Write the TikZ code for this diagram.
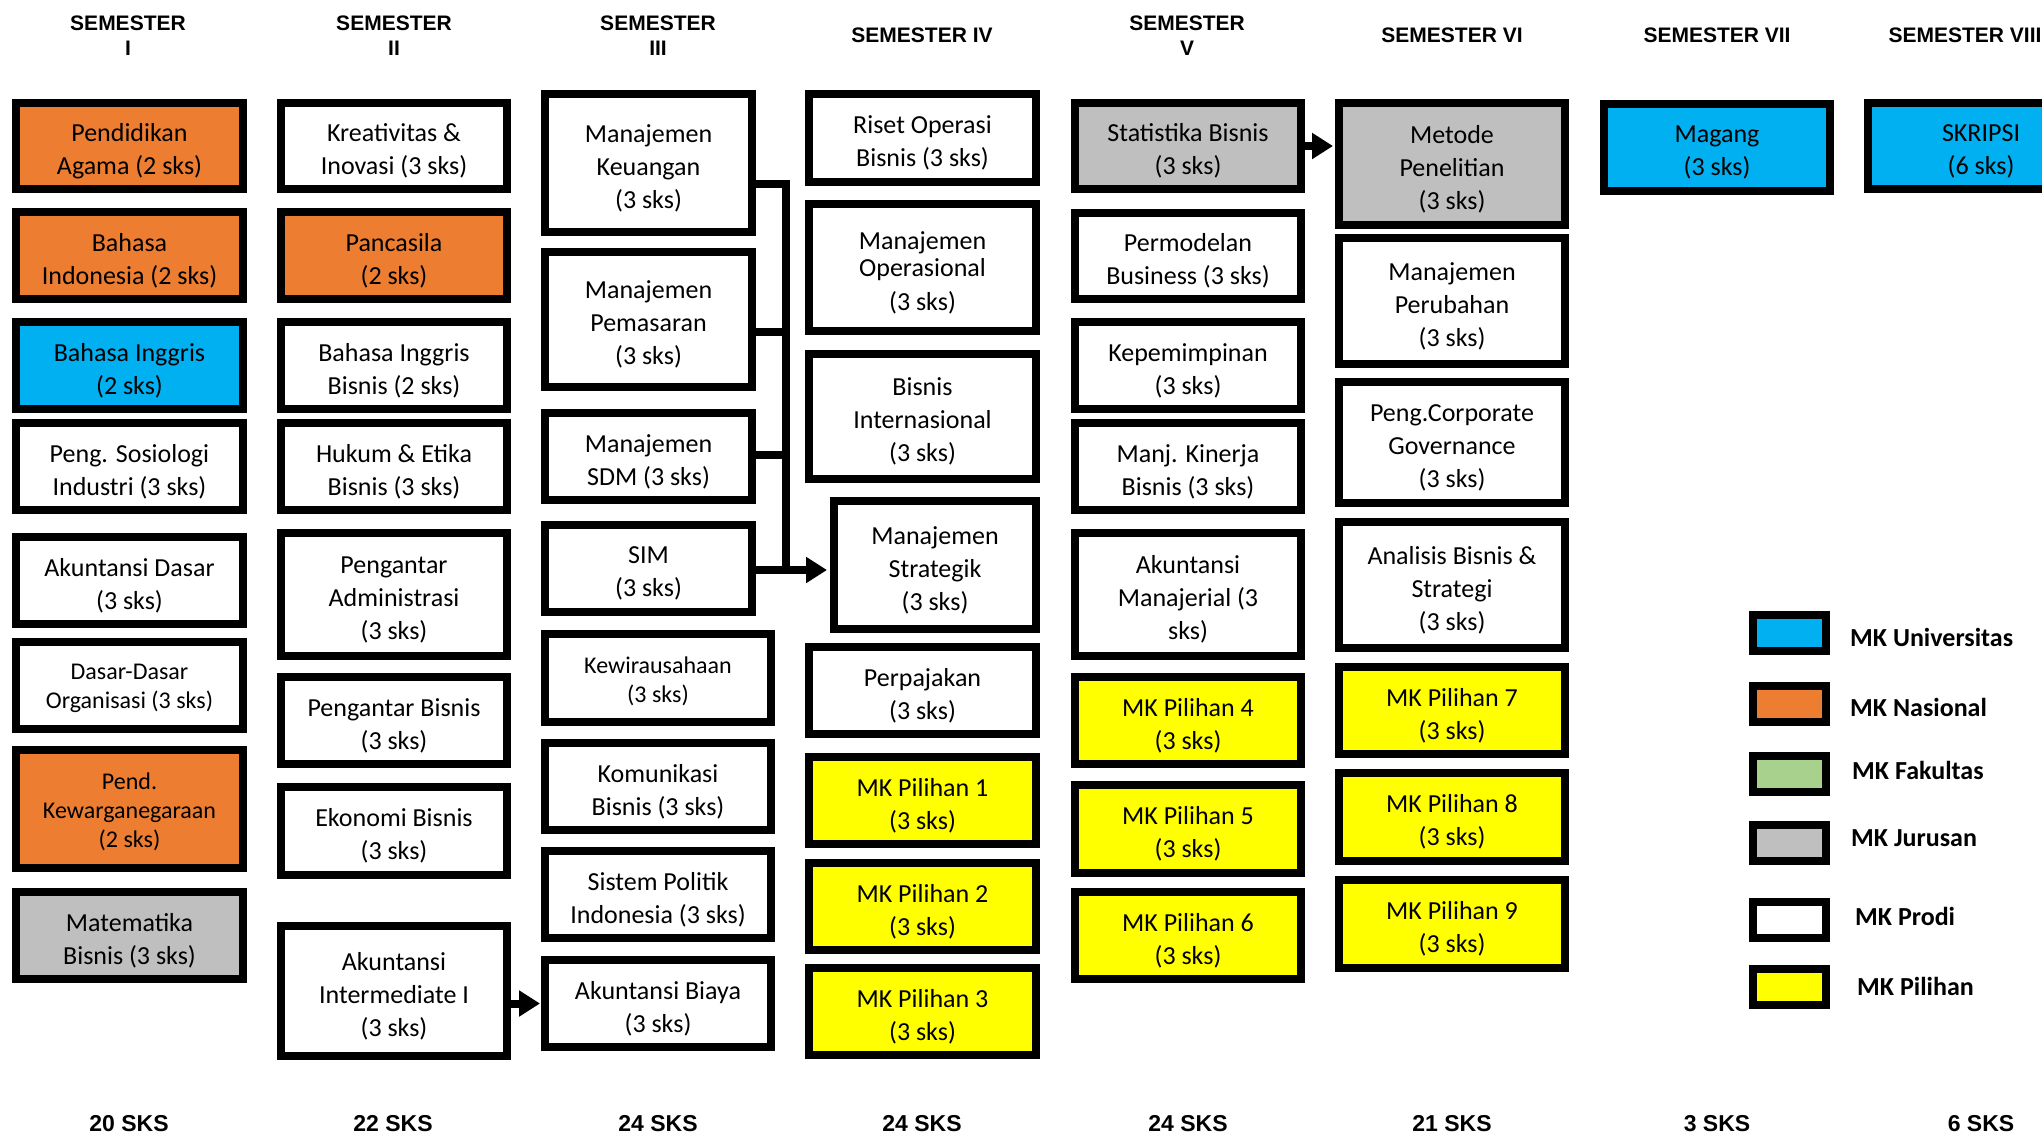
\documentclass[tikz,border=0pt]{standalone}
\usepackage{fontspec}
\setmainfont{Carlito}
\newfontfamily\headfont{Liberation Sans}
\usetikzlibrary{arrows.meta}
\definecolor{mkuni}{HTML}{00B0F0}
\definecolor{mknas}{HTML}{ED7D31}
\definecolor{mkfak}{HTML}{A9D18E}
\definecolor{mkjur}{HTML}{BFBFBF}
\definecolor{mkpro}{HTML}{FFFFFF}
\definecolor{mkpil}{HTML}{FFFF00}
\tikzset{
  course/.style={draw=black, line width=8pt, inner sep=0pt},
  ctext/.style={inner sep=0pt, align=center, yshift=-5pt,
    font=\fontsize{26}{33}\selectfont},
  regtext/.style={},
  smalltext/.style={font=\fontsize{24}{29}\selectfont, yshift=2pt},
  head/.style={align=center, inner sep=0pt, font=\headfont\bfseries\fontsize{21}{25}\selectfont},
  foot/.style={inner sep=0pt, font=\headfont\bfseries\fontsize{23}{27}\selectfont},
  legbox/.style={draw=black, line width=8pt, inner sep=0pt, minimum width=73pt, minimum height=36pt},
  legtext/.style={anchor=west, inner sep=0pt, font=\bfseries\fontsize{26}{30}\selectfont},
  bus/.style={line width=8pt, line join=miter},
  bigarrow/.style={line width=8pt, -{Triangle[length=21pt,width=25pt]}}
}
% name, x1, y1, x2, y2, fill colour, text style, text
\newcommand\cbox[8]{%
  \node[course,fill=#6,minimum width={#4-#2-8},minimum height={#5-#3-8}] (#1) at ({(#2+#4)/2},{(#3+#5)/2}) {};
  \node[ctext,#7] (#1t) at (#1.center) {#8};}
\begin{document}
\begin{tikzpicture}[x=1pt,y=-1pt]
\path[use as bounding box] (0,0) rectangle (2042,1136);
\clip (0,0) rectangle (2042,1136);

% headings
\node[head] (h1) at (128,35.5) {SEMESTER\\I};
\node[head] (h2) at (394,35.5) {SEMESTER\\II};
\node[head] (h3) at (658,35.5) {SEMESTER\\III};
\node[head] (h4) at (922,35) {SEMESTER IV};
\node[head] (h5) at (1187,35.5) {SEMESTER\\V};
\node[head] (h6) at (1452,35) {SEMESTER VI};
\node[head] (h7) at (1717,35) {SEMESTER VII};
\node[head] (h8) at (1965,35) {SEMESTER VIII};

% column 1
\cbox{pa}{12}{99}{247}{193}{mknas}{regtext}{Pendidikan\\Agama (2 sks)}
\cbox{bind}{12}{208}{247}{303}{mknas}{regtext}{Bahasa\\Indonesia (2 sks)}
\cbox{bing}{12}{318}{247}{413}{mkuni}{regtext}{Bahasa Inggris\\(2 sks)}
\cbox{sos}{12}{419}{247}{514}{mkpro}{regtext}{Peng. Sosiologi\\Industri (3 sks)}
\cbox{akd}{12}{533}{247}{628}{mkpro}{regtext}{Akuntansi Dasar\\(3 sks)}
\cbox{ddo}{12}{638}{247}{733}{mkpro}{smalltext}{Dasar-Dasar\\Organisasi (3 sks)}
\cbox{pkn}{12}{746}{247}{872}{mknas}{smalltext}{Pend.\\Kewarganegaraan\\(2 sks)}
\cbox{mat}{12}{888}{247}{983}{mkjur}{regtext}{Matematika\\Bisnis (3 sks)}

% column 2
\cbox{kre}{277}{99}{511}{193}{mkpro}{regtext}{Kreativitas \&\\Inovasi (3 sks)}
\cbox{pan}{277}{208}{511}{303}{mknas}{regtext}{Pancasila\\(2 sks)}
\cbox{bib}{277}{318}{511}{413}{mkpro}{regtext}{Bahasa Inggris\\Bisnis (2 sks)}
\cbox{huk}{277}{419}{511}{514}{mkpro}{regtext}{Hukum \& Etika\\Bisnis (3 sks)}
\cbox{pad}{277}{529}{511}{660}{mkpro}{regtext}{Pengantar\\Administrasi\\(3 sks)}
\cbox{pbis}{277}{673}{511}{768}{mkpro}{regtext}{Pengantar Bisnis\\(3 sks)}
\cbox{eko}{277}{783}{511}{879}{mkpro}{regtext}{Ekonomi Bisnis\\(3 sks)}
\cbox{aki}{277}{922}{511}{1060}{mkpro}{regtext}{Akuntansi\\Intermediate I\\(3 sks)}

% column 3
\cbox{keu}{541}{90}{756}{236}{mkpro}{regtext}{Manajemen\\Keuangan\\(3 sks)}
\cbox{pem}{541}{248}{756}{391}{mkpro}{regtext}{Manajemen\\Pemasaran\\(3 sks)}
\cbox{sdm}{541}{409}{756}{504}{mkpro}{regtext}{Manajemen\\SDM (3 sks)}
\cbox{sim}{541}{521}{756}{616}{mkpro}{regtext}{SIM\\(3 sks)}
\cbox{kwu}{541}{630}{775}{726}{mkpro}{smalltext}{Kewirausahaan\\(3 sks)}
\cbox{kom}{541}{739}{775}{834}{mkpro}{regtext}{Komunikasi\\Bisnis (3 sks)}
\cbox{spi}{541}{847}{775}{942}{mkpro}{regtext}{Sistem Politik\\Indonesia (3 sks)}
\cbox{akb}{541}{956}{775}{1051}{mkpro}{regtext}{Akuntansi Biaya\\(3 sks)}

% column 4
\cbox{rob}{805}{90}{1040}{186}{mkpro}{regtext}{Riset Operasi\\Bisnis (3 sks)}
\cbox{mop}{805}{200}{1040}{335}{mkpro}{regtext}{Manajemen\\[-6pt]Operasional\\[1pt](3 sks)}
\cbox{bin}{805}{350}{1040}{483}{mkpro}{regtext}{Bisnis\\Internasional\\(3 sks)}
\cbox{mst}{830}{497}{1040}{633}{mkpro}{regtext}{Manajemen\\Strategik\\(3 sks)}
\cbox{paj}{805}{643}{1040}{738}{mkpro}{regtext}{Perpajakan\\(3 sks)}
\cbox{p1}{805}{753}{1040}{848}{mkpil}{regtext}{MK Pilihan 1\\(3 sks)}
\cbox{p2}{805}{859}{1040}{954}{mkpil}{regtext}{MK Pilihan 2\\(3 sks)}
\cbox{p3}{805}{964}{1040}{1059}{mkpil}{regtext}{MK Pilihan 3\\(3 sks)}

% column 5
\cbox{stat}{1071}{99}{1305}{193}{mkjur}{regtext}{Statistika Bisnis\\(3 sks)}
\cbox{pmd}{1071}{209}{1305}{303}{mkpro}{regtext}{Permodelan\\Business (3 sks)}
\cbox{kep}{1071}{318}{1305}{413}{mkpro}{regtext}{Kepemimpinan\\(3 sks)}
\cbox{mkb}{1071}{419}{1305}{514}{mkpro}{regtext}{Manj. Kinerja\\Bisnis (3 sks)}
\cbox{akm}{1071}{529}{1305}{660}{mkpro}{regtext}{Akuntansi\\Manajerial (3\\sks)}
\cbox{p4}{1071}{673}{1305}{768}{mkpil}{regtext}{MK Pilihan 4\\(3 sks)}
\cbox{p5}{1071}{781}{1305}{877}{mkpil}{regtext}{MK Pilihan 5\\(3 sks)}
\cbox{p6}{1071}{888}{1305}{983}{mkpil}{regtext}{MK Pilihan 6\\(3 sks)}

% column 6
\cbox{met}{1335}{99}{1569}{229}{mkjur}{regtext}{Metode\\Penelitian\\(3 sks)}
\cbox{mpr}{1335}{234}{1569}{368}{mkpro}{regtext}{Manajemen\\Perubahan\\(3 sks)}
\cbox{gcg}{1335}{378}{1569}{507}{mkpro}{regtext}{Peng.Corporate\\Governance\\(3 sks)}
\cbox{abs}{1335}{518}{1569}{652}{mkpro}{regtext}{Analisis Bisnis \&\\Strategi\\(3 sks)}
\cbox{p7}{1335}{663}{1569}{758}{mkpil}{regtext}{MK Pilihan 7\\(3 sks)}
\cbox{p8}{1335}{769}{1569}{865}{mkpil}{regtext}{MK Pilihan 8\\(3 sks)}
\cbox{p9}{1335}{876}{1569}{972}{mkpil}{regtext}{MK Pilihan 9\\(3 sks)}

% columns 7 and 8
\cbox{mag}{1600}{100}{1834}{195}{mkuni}{regtext}{Magang\\(3 sks)}
\cbox{skr}{1864}{99}{2098}{193}{mkuni}{regtext}{SKRIPSI\\(6 sks)}

% connectors
\coordinate (b1) at (786,184);
\coordinate (b2) at (786,332);
\coordinate (b3) at (786,455);
\coordinate (b4) at (786,570);
\draw[bus] (keu.east |- b1) -- (b1) -- (b4);
\draw[bus] (pem.east |- b2) -- (b2);
\draw[bus] (sdm.east |- b3) -- (b3);
\draw[bigarrow, shorten >=3pt] (sim.east |- b4) -- (mst.west |- b4);
\draw[bigarrow, shorten >=2pt] (stat.east) -- (stat.east -| met.west);
\draw[bigarrow, shorten >=1pt] (akb.west -| aki.east) -- (akb.west);

% legend
\node[legbox, fill=mkuni] (lu) at (1789.5,633) {};
\node[legbox, fill=mknas] (ln) at (1789.5,703.5) {};
\node[legbox, fill=mkfak] (lf) at (1789.5,773.5) {};
\node[legbox, fill=mkjur] (lj) at (1789.5,842.5) {};
\node[legbox, fill=mkpro] (lp) at (1789.5,919.5) {};
\node[legbox, fill=mkpil] (ll) at (1789.5,987) {};
\node[legtext] (tu) at (1850,637) {MK Universitas};
\node[legtext] (tn) at (1850,707) {MK Nasional};
\node[legtext] (tf) at (1852,770) {MK Fakultas};
\node[legtext] (tj) at (1851,838) {MK Jurusan};
\node[legtext] (tp) at (1855,916) {MK Prodi};
\node[legtext] (tl) at (1857,986) {MK Pilihan};

% footers
\node[foot] (f1) at (129,1124) {20 SKS};
\node[foot] (f2) at (393,1124) {22 SKS};
\node[foot] (f3) at (658,1124) {24 SKS};
\node[foot] (f4) at (922,1124) {24 SKS};
\node[foot] (f5) at (1188,1124) {24 SKS};
\node[foot] (f6) at (1452,1124) {21 SKS};
\node[foot] (f7) at (1717,1124) {3 SKS};
\node[foot] (f8) at (1981,1124) {6 SKS};
\end{tikzpicture}
\end{document}
